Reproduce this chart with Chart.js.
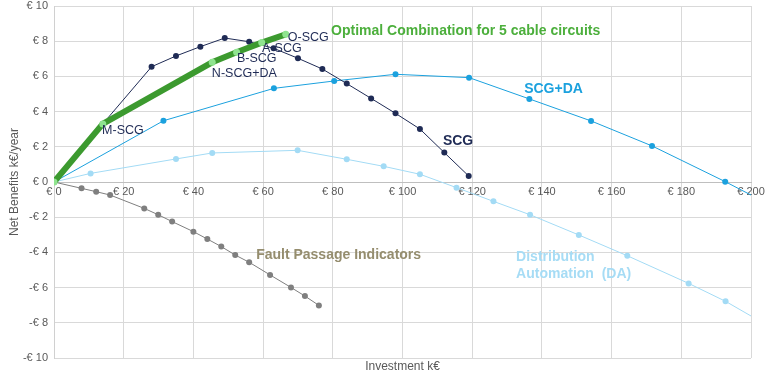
<!DOCTYPE html>
<html>
<head>
<meta charset="utf-8">
<script src="https://cdn.jsdelivr.net/npm/chart.js@4/dist/chart.umd.min.js"></script>
<style>
  html, body { margin: 0; padding: 0; background: #fff; }
  #wrap { width: 770px; height: 376px; }
</style>
</head>
<body>
<div id="wrap"><canvas id="chart"></canvas></div>
<script>
// values (investment k€ / net benefit k€ per year)
optX = [0, 14, 45.4, 52.4, 59.6, 66.5]
optY = [0, 3.3, 6.8, 7.37, 7.92, 8.39]

scgX = [0, 14, 28, 35, 42, 49, 56, 63, 70, 77, 84, 91, 98, 105, 112, 119]
scgY = [0, 3.3, 6.55, 7.16, 7.69, 8.18, 7.97, 7.6, 7.03, 6.42, 5.59, 4.75, 3.9, 3.01, 1.67, 0.34]

scgdaX = [0, 31.4, 63.1, 80.4, 98, 119.1, 136.4, 154.1, 171.6, 192.6, 204]
scgdaY = [0, 3.48, 5.32, 5.74, 6.12, 5.93, 4.72, 3.47, 2.05, 0.02, -1.15]

daX = [0, 10.5, 35, 45.4, 69.9, 84, 94.6, 105, 115.5, 126.1, 136.6, 150.6, 164.5, 182.1, 192.7, 204]
daY = [0, 0.49, 1.31, 1.65, 1.8, 1.29, 0.89, 0.44, -0.32, -1.1, -1.86, -3.01, -4.19, -5.76, -6.78, -8.07]

fpiX = [0, 7.9, 12.1, 16.1, 25.9, 29.9, 33.9, 40, 44, 48, 52, 56, 62, 68, 72, 76]
fpiY = [0, -0.36, -0.55, -0.74, -1.5, -1.86, -2.25, -2.82, -3.24, -3.67, -4.15, -4.56, -5.28, -5.99, -6.48, -7.01]

xTicks = [0, 20, 40, 60, 80, 100, 120, 140, 160, 180, 200]
yTicks = [-10, -8, -6, -4, -2, 0, 2, 4, 6, 8, 10]

// text labels: [text, x, y, colour, bold]
notes = [
    ['O-SCG', 67.1, 8.18, '#1F2B55', false],
    ['A-SCG', 59.7, 7.61, '#1F2B55', false],
    ['B-SCG', 52.5, 6.99, '#1F2B55', false],
    ['N-SCG+DA', 45.3, 6.19, '#1F2B55', false],
    ['M-SCG', 13.8, 2.95, '#1F2B55', false],
    ['Optimal Combination for 5 cable circuits', 79.5, 8.58, '#4CAF3C', true],
    ['SCG+DA', 134.9, 5.28, '#1BA1DE', true],
    ['SCG', 111.6, 2.33, '#1F2B55', true],
    ['Fault Passage Indicators', 58.0, -4.15, '#958D6E', true],
    ['Distribution', 132.6, -4.26, '#A6DCF5', true],
    ['Automation  (DA)', 132.6, -5.23, '#A6DCF5', true]
]

var FONT = '"Liberation Sans", Arial, sans-serif';

function pts(xs, ys) {
    return xs.map((x, i) => ({x: x, y: ys[i]}));
}

function euro(v) {
    return v < 0 ? '-€ ' + (-v) : '€ ' + v;
}

var notesPlugin = {
    id: 'notes',
    afterDatasetsDraw(chart) {
        var ctx = chart.ctx, sx = chart.scales.x, sy = chart.scales.y;
        ctx.save();
        ctx.textBaseline = 'middle';
        ctx.textAlign = 'left';
        notes.forEach(n => {
            ctx.font = n[4] ? 'bold 14px ' + FONT : '12.5px ' + FONT;
            ctx.fillStyle = n[3];
            ctx.fillText(n[0], sx.getPixelForValue(n[1]), sy.getPixelForValue(n[2]));
        });
        ctx.restore();
    }
};

var line = (label, data, color, width, ptColor, radius) => ({
    label: label,
    data: data,
    showLine: true,
    borderColor: color,
    borderWidth: width,
    backgroundColor: ptColor,
    pointBackgroundColor: ptColor,
    pointBorderWidth: 0,
    pointRadius: radius,
    tension: 0
});

var ctx = document.getElementById('chart').getContext('2d');
new Chart(ctx, {
    type: 'scatter',
    data: {
        datasets: [
            line('Optimal', pts(optX, optY), '#3C9A2F', 6, '#8FE48F', 3.5),
            line('SCG', pts(scgX, scgY), '#1F2B55', 1, '#1F2B55', 3),
            line('SCG+DA', pts(scgdaX, scgdaY), '#1BA1DE', 1, '#1BA1DE', 3),
            line('DA', pts(daX, daY), '#A3DBF5', 1, '#A3DBF5', 3),
            line('FPI', pts(fpiX, fpiY), '#7F7F7F', 1, '#7F7F7F', 3)
        ]
    },
    options: {
        responsive: true,
        maintainAspectRatio: false,
        animation: false,
        layout: { padding: { top: 0, right: 19, left: 0, bottom: 0 } },
        plugins: { legend: { display: false }, tooltip: { enabled: false } },
        scales: {
            x: {
                type: 'linear',
                position: { y: 0 },
                min: 0, max: 200,
                afterBuildTicks: s => { s.ticks = xTicks.map(v => ({value: v})); },
                grid: { color: '#D9D9D9', drawTicks: false },
                border: { color: '#BFBFBF' },
                ticks: { color: '#595959', font: { family: FONT, size: 11 }, padding: 3, maxRotation: 0, callback: euro }
            },
            x2: {
                type: 'linear',
                position: 'bottom',
                min: 0, max: 200,
                grid: { display: false, drawTicks: false },
                border: { display: false },
                ticks: { display: false },
                title: { display: true, text: 'Investment k€', color: '#595959', font: { family: FONT, size: 12 }, padding: { top: 2, bottom: 2 } },
                afterFit: s => { s.height = 18; }
            },
            y: {
                type: 'linear',
                min: -10, max: 10,
                afterBuildTicks: s => { s.ticks = yTicks.map(v => ({value: v})); },
                grid: { color: '#D9D9D9', drawTicks: false },
                border: { color: '#D0D0D0' },
                ticks: { color: '#595959', font: { family: FONT, size: 11 }, padding: 6, callback: euro },
                title: { display: true, text: 'Net Benefits k€/year', color: '#595959', font: { family: FONT, size: 12 }, padding: { top: 7, bottom: 0 } },
                afterFit: s => { s.width = 54; s.paddingTop = 6; s.paddingBottom = 0; }
            }
        }
    },
    plugins: [notesPlugin]
});
</script>
</body>
</html>
